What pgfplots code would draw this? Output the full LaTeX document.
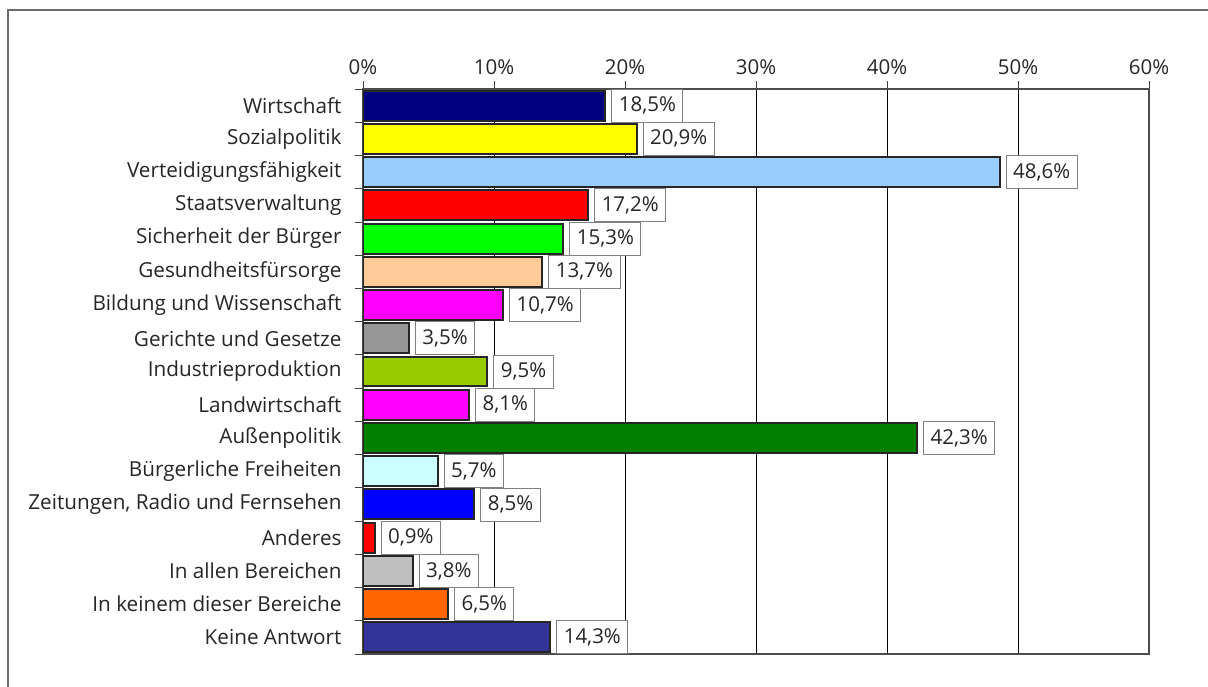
\documentclass[border=0pt]{standalone}
\usepackage{pgfplots}
\pgfplotsset{compat=1.18}
\usepackage{fontspec}
\setmainfont{Open Sans}
\definecolor{c1}{HTML}{000080}
\definecolor{c2}{HTML}{FFFF00}
\definecolor{c3}{HTML}{99CCFF}
\definecolor{c4}{HTML}{FF0000}
\definecolor{c5}{HTML}{00FF00}
\definecolor{c6}{HTML}{FFCC99}
\definecolor{c7}{HTML}{FF00FF}
\definecolor{c8}{HTML}{969696}
\definecolor{c9}{HTML}{99CC00}
\definecolor{c10}{HTML}{FF00FF}
\definecolor{c11}{HTML}{008000}
\definecolor{c12}{HTML}{CCFFFF}
\definecolor{c13}{HTML}{0000FF}
\definecolor{c14}{HTML}{FF0000}
\definecolor{c15}{HTML}{C0C0C0}
\definecolor{c16}{HTML}{FF6600}
\definecolor{c17}{HTML}{333399}
\begin{document}
\begin{tikzpicture}[x=1pt,y=1pt]
\useasboundingbox (0,0) rectangle (1208,-686);
\draw[color=gray!85!black, line width=2pt] (8,-700) -- (8,-10) -- (1230,-10);
\begin{axis}[
  at={(363pt,-89pt)}, anchor=north west,
  scale only axis, width=786pt, height=565pt,
  xmin=0, xmax=60, ymin=-0.5, ymax=16.5,
  y dir=reverse,
  xbar, bar width=0.9,
  xtick={0,10,...,60},
  xticklabel={\pgfmathprintnumber{\tick}\%},
  xticklabel pos=upper, xtick pos=upper,
  ytick={-0.5,0.5,...,16.5}, yticklabels={}, ytick pos=left,
  extra y ticks={0,...,16},
  extra y tick labels={Wirtschaft,Sozialpolitik,Verteidigungsfähigkeit,Staatsverwaltung,Sicherheit der Bürger,Gesundheitsfürsorge,Bildung und Wissenschaft,Gerichte und Gesetze,Industrieproduktion,Landwirtschaft,Außenpolitik,Bürgerliche Freiheiten,{Zeitungen, Radio und Fernsehen},Anderes,In allen Bereichen,In keinem dieser Bereiche,Keine Antwort},
  extra y tick style={major tick length=0pt},
  tick align=outside,
  major tick length=8pt,
  tick style={color=black!75, line width=0.8pt},
  xmajorgrids, grid style={black, line width=0.9pt},
  axis line style={color=black!70, line width=1.3pt},
  /pgf/number format/assume math mode=true,
  xticklabel style={font=\fontsize{20.5}{22}\selectfont, color=black!85, yshift=3pt},
  yticklabel style={font=\fontsize{20.7}{22}\selectfont, color=black!85, xshift=-18pt},
  point meta=x,
  nodes near coords={\pgfmathprintnumber[use comma,fixed,precision=1,fixed zerofill]{\pgfplotspointmeta}\%},
  every node near coord/.append style={anchor=west, xshift=6pt, draw=gray, fill=white, line width=0.9pt,
     minimum height=33pt, inner xsep=7pt, font=\fontsize{20.5}{22}\selectfont, text=black!85},
  mybar/.style={fill=#1, draw=black!85, line width=2pt, bar shift=0pt},
]
\addplot[mybar=c1] coordinates {(18.5,0)};
\addplot[mybar=c2] coordinates {(20.9,1)};
\addplot[mybar=c3] coordinates {(48.6,2)};
\addplot[mybar=c4] coordinates {(17.2,3)};
\addplot[mybar=c5] coordinates {(15.3,4)};
\addplot[mybar=c6] coordinates {(13.7,5)};
\addplot[mybar=c7] coordinates {(10.7,6)};
\addplot[mybar=c8] coordinates {(3.5,7)};
\addplot[mybar=c9] coordinates {(9.5,8)};
\addplot[mybar=c10] coordinates {(8.1,9)};
\addplot[mybar=c11] coordinates {(42.3,10)};
\addplot[mybar=c12] coordinates {(5.7,11)};
\addplot[mybar=c13] coordinates {(8.5,12)};
\addplot[mybar=c14] coordinates {(0.9,13)};
\addplot[mybar=c15] coordinates {(3.8,14)};
\addplot[mybar=c16] coordinates {(6.5,15)};
\addplot[mybar=c17] coordinates {(14.3,16)};
\end{axis}
\end{tikzpicture}
\end{document}
